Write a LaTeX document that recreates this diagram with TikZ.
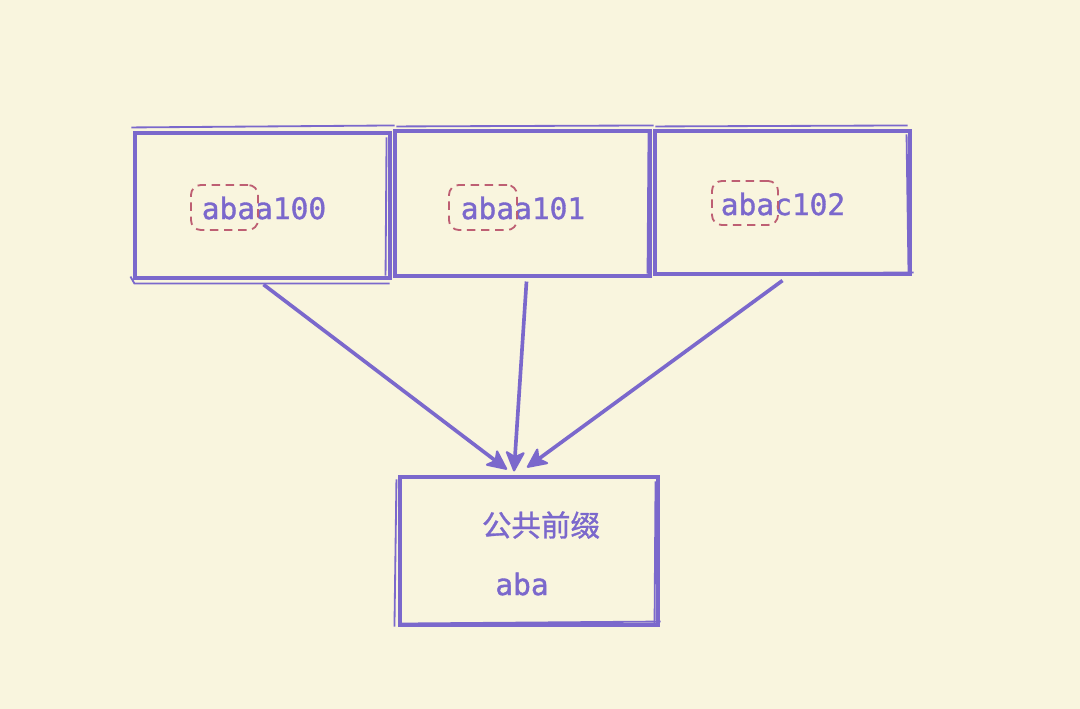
\documentclass[tikz,border=0pt]{standalone}
\usepackage{fontspec}
\newfontfamily\monomed[FakeBold=1.2]{DejaVu Sans Mono}
\newfontfamily\cjk[FakeBold=1.0]{Noto Sans CJK SC}
\usetikzlibrary{arrows.meta,calc}
\definecolor{bg}{RGB}{249,245,222}
\definecolor{pur}{RGB}{123,104,204}
\definecolor{dred}{RGB}{190,95,115}
\newlength\pxu
\setlength\pxu{0.025cm}
\tikzset{
  sbox/.style={draw=pur, line width=2.2pt, inner sep=0pt},
  sketch/.style={draw=pur, line width=1.3pt},
  lbl/.style={text=pur, font=\monomed\fontsize{21}{24}\selectfont, inner sep=0pt},
  pfx/.style={draw=dred, line width=1.3pt, dash pattern=on 6pt off 4pt, rounded corners=7pt, inner sep=0pt},
  arr/.style={draw=pur, line width=2.6pt, -{Stealth[length=16pt,width=15pt,inset=4pt,round,line width=1.5pt]}},
}
\begin{document}
\begin{tikzpicture}[x=0.025cm,y=-0.025cm]
\fill[bg] (0,0) rectangle (1080,709);
% boxes
\node[sbox, minimum width=255\pxu, minimum height=145\pxu] (b1) at (262.5,205.5) {};
\node[sbox, minimum width=255\pxu, minimum height=145\pxu] (b2) at (522.5,203.5) {};
\node[sbox, minimum width=255\pxu, minimum height=143\pxu] (b3) at (782.5,202.5) {};
\node[sbox, minimum width=258\pxu, minimum height=148\pxu] (b4) at (529,551) {};
% sketch overlays
\draw[sketch] ($(b1.north west)+(-2,-4)$) -- ($(b1.north east)+(3,-6)$);
\draw[sketch] ($(b1.south west)+(-3,-3)$) -- ($(b1.south west)+(1,4)$) -- ($(b1.south east)+(-2,4)$);
\draw[sketch] ($(b1.north east)+(-5,6)$) -- ($(b1.south east)+(-6,-4)$);
\draw[sketch] ($(b2.north west)+(3,-3)$) -- ($(b2.north east)+(2,-4)$);
\draw[sketch] ($(b2.north west)+(-4,8)$) -- ($(b2.south west)+(-4,2)$);
\draw[sketch] ($(b2.north east)+(-3,3)$) -- ($(b2.south east)+(-4,-4)$);
\draw[sketch] ($(b3.north west)+(2,-3)$) -- ($(b3.north east)+(-4,-4)$);
\draw[sketch] ($(b3.north east)+(-5,5)$) -- ($(b3.south east)+(-3,-1)$);
\draw[sketch] ($(b3.south west)+(3,-2)$) -- ($(b3.south east)+(2,-3)$);
\draw[sketch] ($(b4.north west)+(-2,4)$) -- ($(b4.south west)+(-4,0)$);
\draw[sketch] ($(b4.north east)+(-4,6)$) -- ($(b4.south east)+(-5,-2)$);
\draw[sketch] ($(b4.south west)+(2,-3)$) -- ($(b4.south east)+(1,-5)$);
% labels
\node[lbl] (t1) at (264,208) {abaa100};
\node[lbl] (t2) at (523,208) {abaa101};
\node[lbl] (t3) at (783,204) {abac102};
\node[pfx, minimum width=67\pxu, minimum height=45\pxu] (p1) at (224.5,207.5) {};
\node[pfx, minimum width=68\pxu, minimum height=45\pxu] (p2) at (483,207.5) {};
\node[pfx, minimum width=66\pxu, minimum height=44\pxu] (p3) at (745,203) {};
\node[text=pur, font=\cjk\fontsize{21}{24}\selectfont, inner sep=0pt] (c1) at (541,525) {公共前缀};
\node[lbl] (c2) at (522,584) {aba};
% arrows
\coordinate (e1) at ($(b4.north)+(-22,-6)$);
\coordinate (e2) at ($(b4.north)+(-15,-4)$);
\coordinate (e3) at ($(b4.north)+(-2,-8)$);
\draw[arr] ($(b1.south)+(1,5)$) -- (e1);
\draw[arr] ($(b2.south)+(4,4)$) -- (e2);
\draw[arr] ($(b3.south)+(0,5)$) -- (e3);
\end{tikzpicture}
\end{document}
